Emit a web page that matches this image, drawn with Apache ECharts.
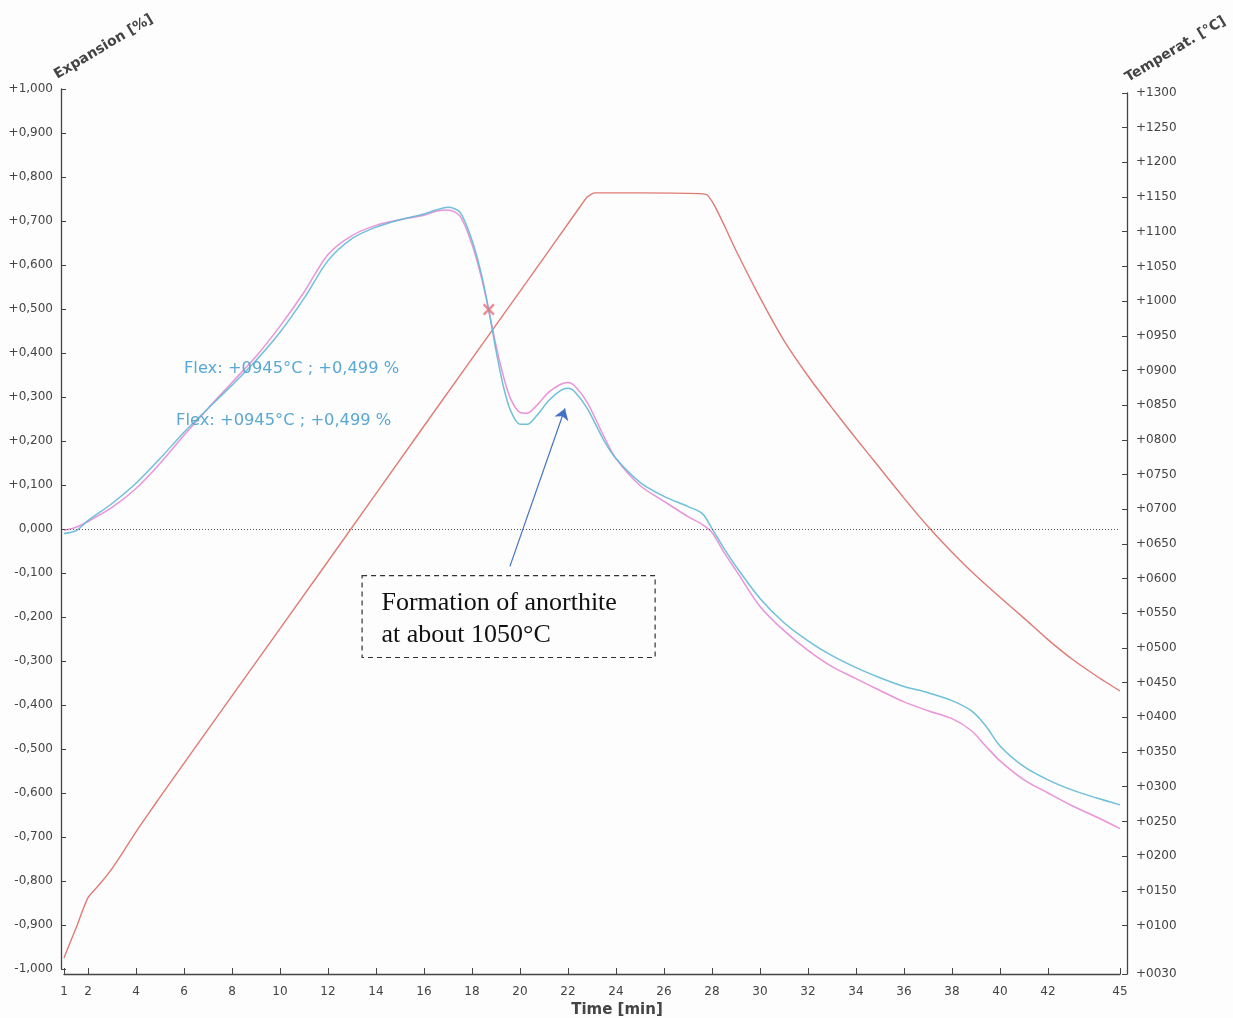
<!DOCTYPE html>
<html><head><meta charset="utf-8">
<script src="https://cdn.jsdelivr.net/npm/echarts@6/dist/echarts.min.js"></script>
<style>html,body{margin:0;padding:0;background:#fdfdfd}#c{width:1233px;height:1018px}</style>
</head><body><div id="c"></div>
<script>
// ---- tick labels ----
const timeTicks = [1,2,4,6,8,10,12,14,16,18,20,22,24,26,28,30,32,34,36,38,40,42,45];
const tempTicks = [30,100,150,200,250,300,350,400,450,500,550,600,650,700,750,800,850,900,950,1000,1050,1100,1150,1200,1250,1300];

// ---- temperature curve (°C, right axis) ----
const tempTime = [1,1.25,1.5,2,2.5,3,3.5,4,4.5,5,8,12,16,20,22.5,22.8,23.1,25,27.5,27.8,28.1,28.5,29,30,31,32,33,34,35,36,37,38,39,40,41,42,43,44,45];
const tempVals = [53,75,96,140,160,182,208,235,260,285,431,625,820,1014,1136,1150,1156,1156,1155,1153,1138,1110,1073,1005,943,892,846,802,759,716,675,638,604,573,543,512,484,460,438];

// ---- expansion curves (%, left axis) ----
const expTime = [1,1.5,2,3,4,5,6,7,8,9,10,11,12,13,14,15,16,16.5,17,17.5,18,18.4,18.7,19,19.3,19.6,20,20.3,20.7,21.2,21.7,22,22.3,22.8,23.5,24,25,26,27,27.6,28,28.5,29,30,31,32,33,34,35,36,37,38,38.8,39.4,40,41,42,43,44,45];
const blueVals = [-0.010,-0.004,0.019,0.058,0.104,0.160,0.220,0.274,0.327,0.383,0.447,0.524,0.610,0.660,0.686,0.703,0.716,0.725,0.731,0.720,0.656,0.577,0.497,0.406,0.326,0.270,0.238,0.238,0.258,0.292,0.315,0.320,0.311,0.274,0.201,0.160,0.106,0.074,0.051,0.035,0.001,-0.044,-0.085,-0.158,-0.213,-0.254,-0.288,-0.315,-0.338,-0.358,-0.372,-0.390,-0.413,-0.447,-0.493,-0.540,-0.570,-0.593,-0.611,-0.627];
const pinkVals = [-0.003,0.004,0.017,0.049,0.092,0.149,0.213,0.274,0.333,0.392,0.461,0.538,0.624,0.667,0.690,0.703,0.713,0.722,0.725,0.711,0.647,0.570,0.497,0.417,0.349,0.297,0.265,0.263,0.281,0.311,0.329,0.333,0.324,0.288,0.210,0.160,0.099,0.063,0.028,0.010,-0.008,-0.053,-0.094,-0.176,-0.231,-0.276,-0.313,-0.340,-0.367,-0.393,-0.413,-0.431,-0.458,-0.493,-0.527,-0.570,-0.600,-0.629,-0.654,-0.681];

// ---- annotations ----
const flexPoint = [18.7, 0.499];
const flexText = 'Flex: +0945°C ; +0,499 %';
const flexLabelPos = [[6.0, 0.365], [5.67, 0.247]];
const noteText = 'Formation of anorthite\nat about 1050°C';
const noteBox = [[13.42, -0.106], [25.63, -0.292]];
const arrowFrom = [19.58, -0.085];
const arrowTo = [21.875, 0.274];

const zip = (a, b) => a.map((v, i) => [v, b[i]]);
const axisColor = '#444';
const lblFont = 'DejaVu Sans';

const chart = echarts.init(document.getElementById('c'));
chart.setOption({
  backgroundColor: '#fdfdfd',
  animation: false,
  grid: [
    {left: 64, right: 113, top: 89, bottom: 49},
    {left: 64, right: 113, top: 93, bottom: 44}
  ],
  xAxis: [
    {type: 'value', gridIndex: 0, min: 1, max: 45, offset: 5,
     axisLine: {show: true, onZero: false, lineStyle: {color: axisColor, width: 1.3}},
     axisTick: {show: true, inside: true, length: 6, customValues: timeTicks, lineStyle: {color: axisColor}},
     axisLabel: {customValues: timeTicks, color: axisColor, fontSize: 12, margin: 12, fontFamily: lblFont},
     splitLine: {show: false}},
    {type: 'value', gridIndex: 1, min: 1, max: 45, show: false, splitLine: {show: false}}
  ],
  yAxis: [
    {type: 'value', gridIndex: 0, min: -1, max: 1, interval: 0.1, position: 'left', offset: 3,
     axisLine: {show: true, onZero: false, lineStyle: {color: axisColor, width: 1.3}},
     axisTick: {show: true, inside: true, length: 5, lineStyle: {color: axisColor}},
     axisLabel: {color: axisColor, fontSize: 12, margin: 8, fontFamily: lblFont,
       formatter: v => { const s = Math.abs(v).toFixed(3).replace('.', ','); return v > 1e-6 ? '+' + s : (v < -1e-6 ? '-' + s : s); }},
     splitLine: {show: false}},
    {type: 'value', gridIndex: 1, min: 30, max: 1300, position: 'right', offset: 7,
     axisLine: {show: true, onZero: false, lineStyle: {color: axisColor, width: 1.3}},
     axisTick: {show: true, inside: true, length: 5, customValues: tempTicks, lineStyle: {color: axisColor}},
     axisLabel: {customValues: tempTicks, color: axisColor, fontSize: 12, margin: 9, fontFamily: lblFont,
       formatter: v => '+' + String(Math.round(v)).padStart(4, '0')},
     splitLine: {show: false}}
  ],
  series: [
    {name: 'Temperature', type: 'line', xAxisIndex: 1, yAxisIndex: 1, data: zip(tempTime, tempVals),
     showSymbol: false, smooth: 0.2, lineStyle: {color: '#e07a74', width: 1.4}, z: 2},
    {name: 'Expansion A', type: 'line', xAxisIndex: 0, yAxisIndex: 0, data: zip(expTime, pinkVals),
     showSymbol: false, smooth: 0.3, lineStyle: {color: '#e888d4', width: 1.5, opacity: 0.9}, z: 3,
     markLine: {silent: true, symbol: ['none', 'none'], label: {show: false},
       lineStyle: {color: '#555', type: [1, 2], width: 1},
       data: [{yAxis: 0}]}},
    {name: 'Expansion B', type: 'line', xAxisIndex: 0, yAxisIndex: 0, data: zip(expTime, blueVals),
     showSymbol: false, smooth: 0.3, lineStyle: {color: '#5fb9d6', width: 1.5, opacity: 0.9}, z: 4,
     markLine: {silent: true, symbol: ['none', 'arrow'], symbolSize: 11, label: {show: false},
       lineStyle: {color: '#4472c4', type: 'solid', width: 1.2},
       data: [[{coord: arrowFrom}, {coord: arrowTo}]]},
     markArea: {silent: true,
       itemStyle: {color: 'rgba(0,0,0,0)', borderColor: '#333', borderWidth: 1.2, borderType: [5, 4]},
       label: {show: true, position: 'insideTopLeft', distance: 0, padding: [12, 0, 0, 20],
         formatter: noteText, fontFamily: 'Liberation Serif', fontSize: 26, lineHeight: 32, color: '#111'},
       data: [[{coord: noteBox[0]}, {coord: noteBox[1]}]]},
     markPoint: {silent: true, symbol: 'circle', symbolSize: 0,
       label: {show: true, position: 'inside', align: 'left', verticalAlign: 'middle',
         formatter: flexText, fontFamily: lblFont, fontSize: 16.3, color: '#5aa8d4'},
       data: flexLabelPos.map(p => ({coord: p}))}},
    {name: 'Flex', type: 'scatter', xAxisIndex: 0, yAxisIndex: 0, data: [flexPoint],
     symbol: 'path://M0,1.5L1.5,0L5,3.5L8.5,0L10,1.5L6.5,5L10,8.5L8.5,10L5,6.5L1.5,10L0,8.5L3.5,5Z', symbolSize: 12,
     itemStyle: {color: '#e8707e'}, z: 6}
  ],
  graphic: [
    {type: 'text', x: 59, y: 82, rotation: 31 * Math.PI / 180,
     style: {text: 'Expansion [%]', font: 'bold 14px "DejaVu Sans"', fill: axisColor, textAlign: 'left', textVerticalAlign: 'bottom'}},
    {type: 'text', x: 1130, y: 85, rotation: 31 * Math.PI / 180,
     style: {text: 'Temperat. [°C]', font: 'bold 14px "DejaVu Sans"', fill: axisColor, textAlign: 'left', textVerticalAlign: 'bottom'}},
    {type: 'text', x: 617, y: 1010,
     style: {text: 'Time [min]', font: 'bold 15px "DejaVu Sans"', fill: axisColor, textAlign: 'center', textVerticalAlign: 'middle'}}
  ]
});
</script>
</body></html>
